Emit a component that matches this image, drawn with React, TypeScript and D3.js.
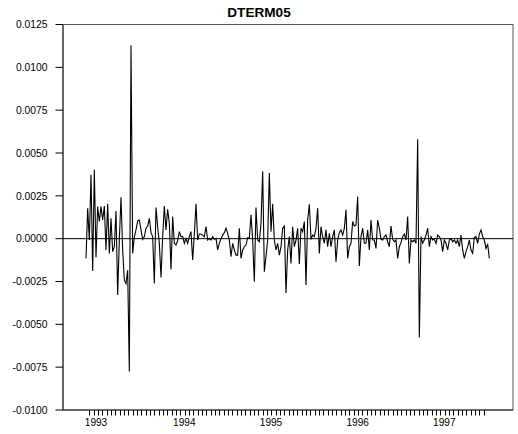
import React from "react";
import * as d3 from "d3";

// Weekly first differences of the 5-year term series, starting 20 Nov 1992.
const TITLE = "DTERM05";
const START_DATE = new Date(1992, 10, 20);

const DTERM05: number[] = [
  // Nov 1992 – Oct 1994
  -0.00115, 0.00178, -0.00008, 0.00373, -0.00189, 0.00402, -0.00109, 0.00187, 0.001, 0.00187,
  0.00109, 0.00191, -0.00066, 0.00203, -0.00086, 0.00119, -0.00076, -0.00047, 0.00162, -0.00328,
  -0.00008, 0.00242, -0.00066, -0.00242, -0.00262, -0.00184, -0.00775, 0.01129, -0.00086, 0.0001,
  0.00051, 0.00104, 0.00109, 0.00051, -0.00004, 0.00012, 0.00061, 0.00074, 0.00119, 0.00035,
  0.00012, -0.00262, 0.00182, 0.0007, -0.00027, -0.00227, 0.00012, 0.00191, 0.00051, 0.00172,
  0.0009, -0.0018, 0.00129, -0.00027, -0.00037, -0.00012, 0.00041, 0.00012, 0.00012, -0.00027,
  0.0, -0.00027, 0.00012, 0.00041, -0.00125, 0.00027, 0.00203, -0.00008, 0.00027, 0.00027,
  0.00021, 0.00012, 0.0007, -0.00008, 0.00002, -0.00008, 0.00012, -0.00004, 0.00002, -0.00066,
  -0.00027, 0.0, 0.00021, 0.00035, 0.00061, 0.00031, -0.00008, -0.00105, -0.00027, -0.00066,
  -0.00096, -0.00096, 0.00061, -0.00115, -0.00066, -0.00047, -0.00037, 0.00006, 0.00002,
  // Oct 1994 – Jun 1997
  0.00139, -0.00008, -0.00252, 0.00182, -0.00008, -0.00018, 0.0009, 0.00393, -0.00193, -0.00105,
  -0.00008, 0.00383, 0.00041, 0.00203, -0.00008, -0.00066, -0.00027, -0.00096, -0.00047, 0.00061,
  0.00074, -0.00317, -0.00066, 0.00012, -0.00145, 0.0007, -0.00047, -0.00008, 0.00061, -0.00148,
  0.00061, 0.00041, 0.001, -0.0027, 0.00109, 0.00201, -0.00004, 0.00021, 0.00012, 0.00061,
  0.00178, -0.00086, 0.0007, 0.00012, -0.00027, 0.00051, -0.00047, 0.00031, -0.00047, 0.00012,
  0.00051, -0.00135, -0.00008, 0.00035, 0.00051, 0.00021, 0.00061, 0.00168, -0.00115, -0.00047,
  -0.00027, 0.001, 0.00074, 0.0008, 0.00246, -0.0016, 0.00012, 0.00061, -0.00027, -0.00027,
  0.00051, -0.00066, 0.00109, -0.00008, -0.00008, -0.00057, 0.00109, 0.00061, -0.00004, -0.00008,
  0.00012, 0.00021, -0.00018, -0.00047, 0.00074, -0.00004, -0.00018, -0.00008, -0.00115, -0.00047,
  -0.00023, 0.00012, 0.00027, -0.00008, 0.00129, -0.00145, -0.00008, -0.00018, -0.00008, -0.00027,
  0.0058, -0.00577, 0.00012, -0.00027, -0.00008, 0.00021, 0.00061, -0.00047, 0.00012, -0.00008,
  -0.00004, -0.00027, 0.00021, 0.00012, -0.00008, -0.00076, -0.00008, -0.00027, -0.00066, -0.00008,
  0.0, -0.00018, -0.00008, -0.00027, -0.00008, -0.00047, 0.00021, -0.00066, -0.00115, -0.00076,
  -0.00047, -0.00008, -0.00066, -0.00086, 0.00008, 0.00012, -0.00027, 0.00027, 0.00051, 0.00012,
  -0.00008, -0.00057, -0.00031, -0.00115,
];

const Y_TICKS: number[] = [-0.01, -0.0075, -0.005, -0.0025, 0, 0.0025, 0.005, 0.0075, 0.01, 0.0125];
const YEAR_LABELS: number[] = [1993, 1994, 1995, 1996, 1997];
// Minor tick marks along the date axis, in observation units.
const MINOR_TICK_FIRST = 2;
const MINOR_TICK_STEP = 2.6;

const W = 518;
const H = 434;
const M = { left: 63, right: 513, top: 24.5, bottom: 410 };
const FONT = "Arial, 'Liberation Sans', Helvetica, sans-serif";

const fmt = d3
  .formatLocale({ decimal: ".", thousands: ",", grouping: [3], currency: ["$", ""], minus: "-" })
  .format(".4f");

export default function App() {
  const n = DTERM05.length;
  const dates = DTERM05.map((_, i) => d3.timeWeek.offset(START_DATE, i));

  const x = d3.scaleLinear().domain([-13.8, n - 1 + 14.2]).range([M.left, M.right]);
  const y = d3.scaleLinear().domain([-0.01, 0.0125]).range([M.bottom, M.top]);

  const line = d3
    .line<number>()
    .x((_, i) => x(i))
    .y((d) => y(d));

  const minorTicks = d3.range(MINOR_TICK_FIRST, n - 4, MINOR_TICK_STEP);
  const yearPos = YEAR_LABELS.map((yr) => ({
    yr,
    i: dates.findIndex((d) => d.getFullYear() === yr),
  }));

  return (
    <svg
      width={W}
      height={H}
      style={{ position: "absolute", left: 0, top: 0, background: "#fff" }}
      fontFamily={FONT}
    >
      <rect x={0} y={0} width={W} height={H} fill="#fff" />
      <text x={W / 2} y={16.7} textAnchor="middle" fontSize={13.6} fontWeight="bold" fill="#000">
        {TITLE}
      </text>

      {/* frame */}
      <rect
        x={M.left}
        y={M.top}
        width={M.right - M.left}
        height={M.bottom - M.top}
        fill="none"
        stroke="#555"
        strokeWidth={1}
      />
      <line x1={M.left} x2={M.left} y1={M.top} y2={M.bottom} stroke="#555" strokeWidth={1.6} />
      <line x1={M.left} x2={M.right} y1={M.bottom} y2={M.bottom} stroke="#555" strokeWidth={1.4} />

      {/* y axis */}
      {Y_TICKS.map((t) => (
        <g key={t}>
          <line x1={M.left - 7.5} x2={M.left} y1={y(t)} y2={y(t)} stroke="#000" strokeWidth={1} />
          <text x={47.5} y={y(t) + 3.8} textAnchor="end" fontSize={10.3} fill="#000">
            {fmt(t)}
          </text>
        </g>
      ))}

      {/* x axis */}
      {minorTicks.map((t) => (
        <line
          key={t}
          x1={Math.round(x(t)) + 0.5}
          x2={Math.round(x(t)) + 0.5}
          y1={M.bottom}
          y2={M.bottom + 5.5}
          stroke="#000"
          strokeWidth={1}
        />
      ))}
      {yearPos.map(({ yr, i }) => (
        <text key={yr} x={x(i)} y={426} textAnchor="middle" fontSize={10.1} fill="#000">
          {yr}
        </text>
      ))}

      {/* zero reference line */}
      <line x1={M.left} x2={M.right} y1={y(0)} y2={y(0)} stroke="#000" strokeWidth={1} />

      <path d={line(DTERM05) ?? ""} fill="none" stroke="#000" strokeWidth={1.1} strokeLinejoin="miter" />
    </svg>
  );
}
